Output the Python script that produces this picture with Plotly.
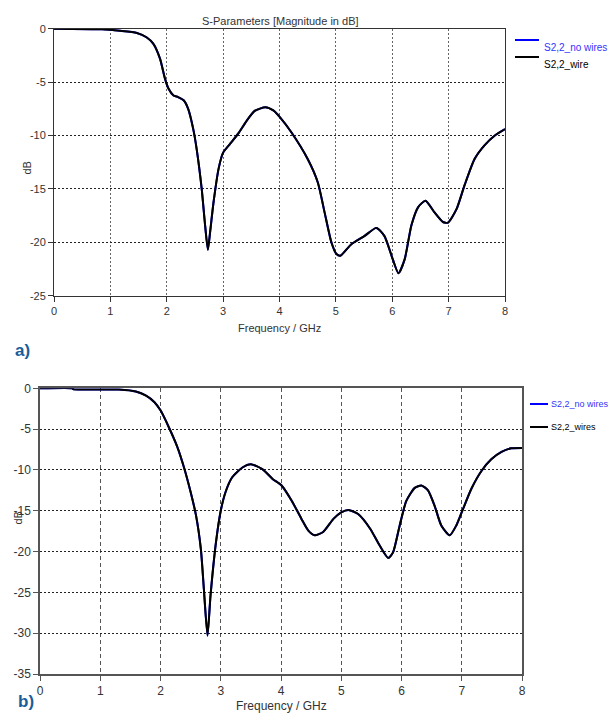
import plotly.graph_objects as go

# ---- Data (a) ----
freq_a = [0, 0.85, 1.17, 1.47, 1.64, 1.76, 1.88, 1.97, 2.03, 2.12, 2.2, 2.3, 2.38, 2.47, 2.53,
          2.62, 2.68, 2.73, 2.77, 2.83, 2.92, 3.0, 3.12, 3.27, 3.42, 3.56, 3.75, 3.89, 4.01,
          4.21, 4.5, 4.68, 4.8, 4.92, 5.01, 5.08, 5.27, 5.51, 5.72, 5.86, 6.01, 6.11, 6.22,
          6.34, 6.46, 6.59, 6.75, 6.9, 6.99, 7.14, 7.28, 7.46, 7.64, 7.82, 8.0]
s22_wire_a = [0, -0.06, -0.2, -0.4, -0.8, -1.4, -2.8, -4.7, -5.6, -6.25, -6.4, -6.7, -7.5, -9.4, -11.25,
              -15.0, -18.4, -20.7, -19.0, -16.25, -13.1, -11.6, -10.8, -9.8, -8.6, -7.7, -7.35, -7.65, -8.3,
              -9.7, -12.2, -14.4, -17.2, -20.0, -21.1, -21.25, -20.2, -19.4, -18.65, -19.4, -21.6, -22.9, -21.6,
              -18.4, -16.7, -16.1, -17.2, -18.1, -18.15, -16.9, -14.7, -12.2, -10.9, -10.0, -9.4]
s22_nowires_a = list(s22_wire_a)

# ---- Data (b) ----
freq_b = [0, 0.54, 0.55, 1.31, 1.59, 1.76, 1.9, 2.0, 2.14, 2.28, 2.39, 2.5, 2.59, 2.67, 2.72, 2.78,
          2.83, 2.92, 3.0, 3.08, 3.19, 3.36, 3.5, 3.69, 3.86, 4.01, 4.18, 4.34, 4.45, 4.56, 4.7,
          4.87, 5.0, 5.12, 5.28, 5.48, 5.64, 5.78, 5.86, 5.97, 6.08, 6.22, 6.33, 6.44, 6.55, 6.66,
          6.8, 6.91, 7.02, 7.16, 7.33, 7.49, 7.66, 7.82, 8.0]
s22_wires_b = [0, 0, -0.1, -0.16, -0.4, -0.9, -1.7, -2.7, -4.8, -7.2, -9.7, -12.7, -15.6, -19.7, -24.6, -30.3,
               -25.4, -18.9, -15.0, -12.7, -10.9, -9.7, -9.3, -9.9, -11.1, -11.9, -13.8, -16.0, -17.4, -18.0, -17.6,
               -16.0, -15.2, -14.9, -15.4, -17.2, -19.3, -20.8, -20.1, -16.8, -13.8, -12.2, -11.9, -12.5, -14.4, -16.8,
               -18.0, -16.8, -14.8, -12.3, -10.1, -8.7, -7.8, -7.35, -7.3]
s22_nowires_b = list(s22_wires_b)

x_ticks = [0, 1, 2, 3, 4, 5, 6, 7, 8]
x_ticktext = ["0", "1", "2", "3", "4", "5", "6", "7", "8"]
y_ticks_a = [0, -5, -10, -15, -20, -25]
y_ticktext_a = ["0", "-5", "-10", "-15", "-20", "-25"]
y_ticks_b = [0, -5, -10, -15, -20, -25, -30, -35]
y_ticktext_b = ["0", "-5", "-10", "-15", "-20", "-25", "-30", "-35"]

legend_a = ["S2,2_no wires", "S2,2_wire"]
legend_b = ["S2,2_no wires", "S2,2_wires"]
series_colors = ["#0000ff", "#000000"]
legend_text_colors = ["#3333ff", "#000000"]

W, H = 609, 728
def px(x): return x / W
def py(y): return 1 - y / H

FONT_A = "Liberation Sans, Arial, sans-serif"
FONT_B = "Liberation Sans, Arial, sans-serif"

fig = go.Figure()
for name, yv, col in [(legend_a[0], s22_nowires_a, series_colors[0]), (legend_a[1], s22_wire_a, series_colors[1])]:
    fig.add_trace(go.Scatter(x=freq_a, y=yv, mode="lines", line=dict(color=col, width=2, shape="spline", smoothing=0.6),
                             name=name, xaxis="x", yaxis="y", showlegend=False))
for name, yv, col in [(legend_b[0], s22_nowires_b, series_colors[0]), (legend_b[1], s22_wires_b, series_colors[1])]:
    fig.add_trace(go.Scatter(x=freq_b, y=yv, mode="lines", line=dict(color=col, width=2, shape="spline", smoothing=0.6),
                             name=name, xaxis="x2", yaxis="y2", showlegend=False))

axis_common = dict(showline=True, mirror=True, ticks="outside", ticklen=5, zeroline=False, showgrid=True, automargin=False)

shapes = []
annotations = []
# custom legends (a)
for i, (txt, col, tcol) in enumerate(zip(legend_a, series_colors, legend_text_colors)):
    yy = 40 + 17 * i
    shapes.append(dict(type="line", xref="paper", yref="paper", x0=px(515), x1=px(539), y0=py(yy), y1=py(yy),
                       line=dict(color=col, width=2)))
    annotations.append(dict(text=txt, x=px(542), y=py(yy), xref="paper", yref="paper", xanchor="left",
                            showarrow=False, font=dict(family=FONT_A, size=10, color=tcol)))
# custom legends (b)
for i, (txt, col, tcol) in enumerate(zip(legend_b, series_colors, legend_text_colors)):
    yy = 404 + 23 * i
    shapes.append(dict(type="line", xref="paper", yref="paper", x0=px(530), x1=px(548), y0=py(yy), y1=py(yy),
                       line=dict(color=col, width=2)))
    annotations.append(dict(text=txt, x=px(549), y=py(yy), xref="paper", yref="paper", xanchor="left",
                            showarrow=False, font=dict(family=FONT_B, size=9, color=tcol)))

annotations += [
    dict(text="S-Parameters [Magnitude in dB]", x=px(280), y=py(13), xref="paper", yref="paper",
         showarrow=False, font=dict(family=FONT_A, size=11, color="#333")),
    dict(text="Frequency / GHz", x=px(279.5), y=py(328), xref="paper", yref="paper",
         showarrow=False, font=dict(family=FONT_A, size=11, color="#333")),
    dict(text="dB", x=px(18), y=py(160), xref="paper", yref="paper", textangle=-90,
         showarrow=False, font=dict(family=FONT_A, size=11, color="#333")),
    dict(text="<b>a)</b>", x=px(13), y=py(350), xref="paper", yref="paper",
         showarrow=False, font=dict(family="Liberation Sans, Arial, sans-serif", size=17, color="#1a5d99")),
    dict(text="Frequency / GHz", x=px(281), y=py(715), xref="paper", yref="paper",
         showarrow=False, font=dict(family=FONT_B, size=12, color="#333")),
    dict(text="dB", x=px(9), y=py(527), xref="paper", yref="paper", textangle=-90,
         showarrow=False, font=dict(family=FONT_B, size=11, color="#333")),
    dict(text="<b>b)</b>", x=px(16), y=py(713), xref="paper", yref="paper",
         showarrow=False, font=dict(family="Liberation Sans, Arial, sans-serif", size=17, color="#1a5d99")),
]

fig.update_layout(
    width=W, height=H, margin=dict(l=0, r=0, t=0, b=0),
    paper_bgcolor="white", plot_bgcolor="white", showlegend=False,
    xaxis=dict(domain=[px(54), px(505)], range=[0, 8], tickvals=x_ticks, ticktext=x_ticktext, anchor="y",
               linecolor="#333", tickcolor="#333", gridcolor="#666", griddash="2px,2px",
               tickfont=dict(family=FONT_A, size=11, color="#333"), **axis_common),
    yaxis=dict(domain=[py(295.7), py(28.7)], range=[-25, 0], tickvals=y_ticks_a, ticktext=y_ticktext_a, anchor="x",
               linecolor="#333", tickcolor="#333", gridcolor="#222", griddash="2px,2px",
               tickfont=dict(family=FONT_A, size=11, color="#333"), **axis_common),
    xaxis2=dict(domain=[px(40), px(522)], range=[0, 8], tickvals=x_ticks, ticktext=x_ticktext, anchor="y2",
                linecolor="#555", linewidth=1.5, tickcolor="#555", gridcolor="#555", griddash="4px,3px",
                tickfont=dict(family=FONT_B, size=12, color="#333"), **axis_common),
    yaxis2=dict(domain=[py(674), py(388.3)], range=[-35, 0], tickvals=y_ticks_b, ticktext=y_ticktext_b, anchor="x2",
                linecolor="#555", linewidth=1.5, tickcolor="#555", gridcolor="#222", griddash="2px,2px",
                tickfont=dict(family=FONT_B, size=12, color="#333"), **axis_common),
    shapes=shapes,
    annotations=annotations,
)

fig.write_html("out.html")
